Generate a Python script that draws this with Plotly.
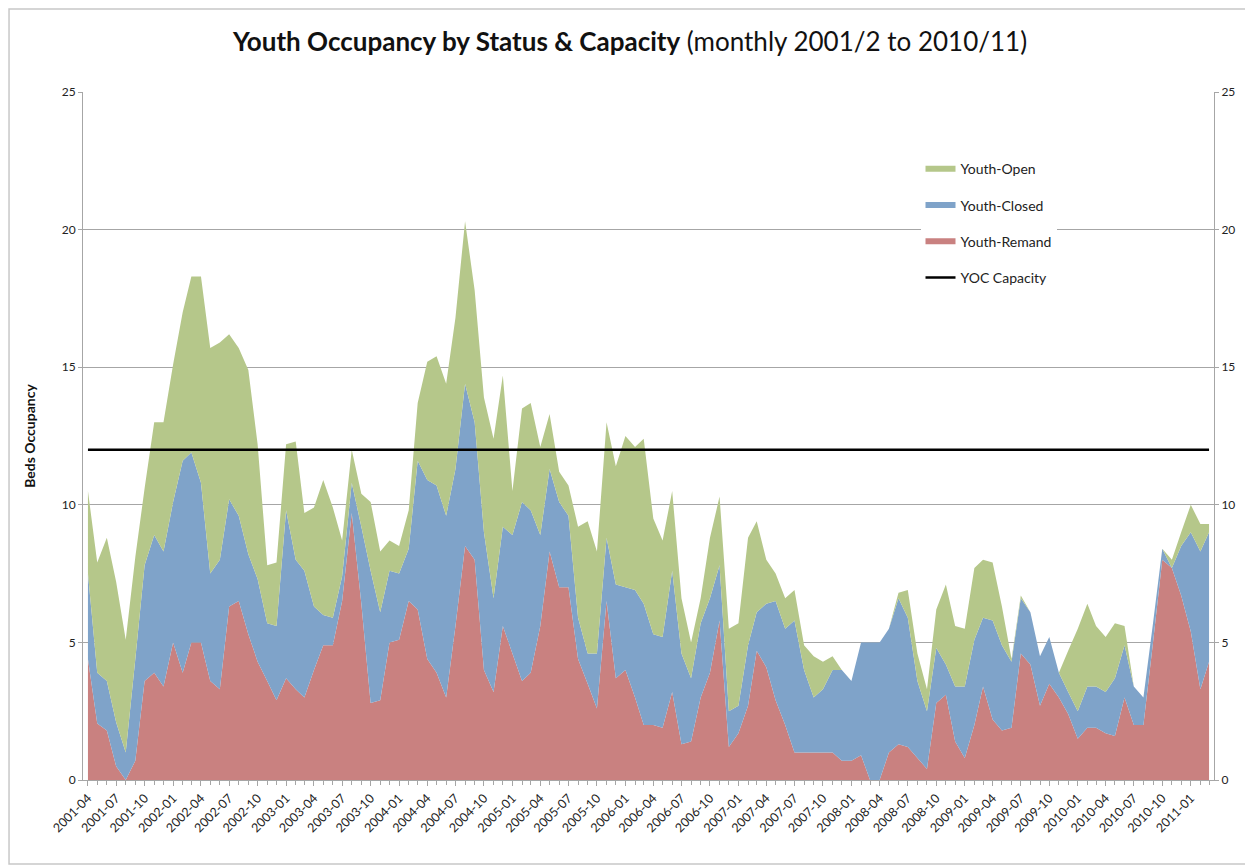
import pandas as pd
import plotly.graph_objects as go

# Monthly categories (first point 2001-04, last 2011-03)
MONTHS = pd.date_range("2001-04-01", periods=120, freq="MS").strftime("%Y-%m-%d").tolist()

YOUTH_REMAND = [
    4.4, 2.05, 1.8, 0.5, 0.0, 0.7, 3.6, 3.9, 3.4, 5.0,
    3.9, 5.0, 5.0, 3.6, 3.3, 6.3, 6.5, 5.3, 4.3, 3.6,
    2.9, 3.7, 3.3, 3.0, 4.0, 4.9, 4.9, 6.5, 9.7, 6.4,
    2.8, 2.9, 5.0, 5.1, 6.5, 6.2, 4.4, 3.9, 3.0, 5.6,
    8.5, 8.0, 4.0, 3.2, 5.6, 4.6, 3.6, 3.9, 5.6, 8.3,
    7.0, 7.0, 4.4, 3.5, 2.6, 6.5, 3.7, 4.0, 3.0, 2.0,
    2.0, 1.9, 3.2, 1.3, 1.4, 3.0, 3.9, 5.8, 1.2, 1.7,
    2.7, 4.7, 4.1, 2.9, 2.0, 1.0, 1.0, 1.0, 1.0, 1.0,
    0.7, 0.7, 0.9, 0.0, 0.0, 1.0, 1.3, 1.2, 0.8, 0.4,
    2.8, 3.1, 1.4, 0.8, 2.0, 3.4, 2.2, 1.8, 1.9, 4.6,
    4.2, 2.7, 3.5, 3.0, 2.4, 1.5, 1.9, 1.9, 1.7, 1.6,
    3.0, 2.0, 2.0, 5.0, 8.0, 7.7, 6.7, 5.4, 3.3, 4.3,
]

YOUTH_CLOSED = [
    3.1, 1.85, 1.8, 1.6, 1.0, 3.7, 4.2, 5.0, 4.9, 5.1,
    7.7, 6.9, 5.8, 3.9, 4.7, 3.9, 3.1, 2.9, 3.0, 2.1,
    2.7, 6.1, 4.7, 4.6, 2.3, 1.1, 1.0, 0.9, 1.1, 2.8,
    4.8, 3.2, 2.6, 2.4, 1.9, 5.4, 6.5, 6.8, 6.6, 5.7,
    5.9, 5.0, 5.0, 3.4, 3.6, 4.3, 6.5, 5.9, 3.3, 3.0,
    3.1, 2.6, 1.5, 1.1, 2.0, 2.3, 3.4, 3.0, 3.9, 4.4,
    3.3, 3.3, 4.4, 3.3, 2.3, 2.7, 2.7, 2.0, 1.3, 1.0,
    2.2, 1.4, 2.3, 3.6, 3.5, 4.8, 3.0, 2.0, 2.3, 3.0,
    3.3, 2.9, 4.1, 5.0, 5.0, 4.5, 5.3, 4.7, 2.8, 2.1,
    2.0, 1.1, 2.0, 2.6, 3.1, 2.5, 3.6, 3.1, 2.4, 2.0,
    1.9, 1.8, 1.7, 0.9, 0.8, 1.0, 1.5, 1.5, 1.5, 2.1,
    1.9, 1.4, 1.0, 0.7, 0.4, 0.0, 1.8, 3.6, 5.0, 4.7,
]

YOUTH_OPEN = [
    3.0, 4.0, 5.2, 5.1, 4.1, 3.7, 2.8, 4.1, 4.7, 5.0,
    5.4, 6.4, 7.5, 8.2, 7.9, 6.0, 6.1, 6.7, 4.9, 2.1,
    2.3, 2.4, 4.3, 2.1, 3.6, 4.9, 4.0, 1.3, 1.2, 1.2,
    2.5, 2.2, 1.1, 1.0, 1.4, 2.1, 4.3, 4.7, 4.8, 5.5,
    5.9, 4.8, 4.9, 5.8, 5.5, 1.6, 3.4, 3.9, 3.2, 2.0,
    1.1, 1.1, 3.3, 4.8, 3.7, 4.2, 4.3, 5.5, 5.2, 6.0,
    4.2, 3.5, 2.9, 2.0, 1.3, 0.9, 2.2, 2.5, 3.0, 3.0,
    3.9, 3.3, 1.6, 1.0, 1.1, 1.1, 0.9, 1.5, 1.0, 0.5,
    0.0, 0.0, 0.0, 0.0, 0.0, 0.0, 0.2, 1.0, 1.0, 0.8,
    1.4, 2.9, 2.2, 2.1, 2.6, 2.1, 2.1, 1.4, 0.1, 0.1,
    0.0, 0.0, 0.0, 0.0, 1.5, 3.0, 3.0, 2.2, 2.0, 2.0,
    0.7, 0.0, 0.0, 0.0, 0.0, 0.3, 0.5, 1.0, 1.0, 0.3,
]

YOC_CAPACITY = 12

TICK_VALUES = [0, 5, 10, 15, 20, 25]

GREEN = "rgb(181,199,138)"
BLUE = "rgb(127,163,201)"
RED = "rgb(201,129,128)"
FONT = "Lato, 'Open Sans', sans-serif"

fig = go.Figure()

fig.add_trace(go.Scatter(
    x=MONTHS, y=YOUTH_REMAND, name="Youth-Remand", stackgroup="one",
    mode="none", fillcolor=RED, legendrank=3, legendgroup="r",
    hoverinfo="skip",
))
fig.add_trace(go.Scatter(
    x=MONTHS, y=YOUTH_CLOSED, name="Youth-Closed", stackgroup="one",
    mode="none", fillcolor=BLUE, legendrank=2, legendgroup="c",
    hoverinfo="skip",
))
fig.add_trace(go.Scatter(
    x=MONTHS, y=YOUTH_OPEN, name="Youth-Open", stackgroup="one",
    mode="none", fillcolor=GREEN, legendrank=1, legendgroup="o",
    hoverinfo="skip",
))
fig.add_trace(go.Scatter(
    x=MONTHS, y=[YOC_CAPACITY] * len(MONTHS), name="YOC Capacity",
    mode="lines", line=dict(color="black", width=2.5), legendrank=4,
    legendgroup="k", yaxis="y2", hoverinfo="skip",
))

axis_line = "rgb(166,166,166)"

W, H = 1245, 857
fig.update_layout(
    width=W, height=H,
    margin=dict(l=75, r=39, t=84, b=85),
    paper_bgcolor="white", plot_bgcolor="white",
    font=dict(family=FONT, size=12, color="#222"),
    title=dict(
        text="<b>Youth Occupancy by Status &amp; Capacity</b> (monthly 2001/2 to 2010/11)",
        x=(630 - 8) / W, xref="container", xanchor="center",
        y=1 - 34 / H, yref="container", yanchor="middle",
        font=dict(family=FONT, size=26, color="#111"),
    ),
    xaxis=dict(
        type="date",
        range=["2001-03-16", "2011-03-17"],
        tick0="2001-04-01", dtick="M3", tickformat="%Y-%m",
        tickangle=-45, ticks="outside", ticklen=5, tickcolor=axis_line,
        minor=dict(dtick="M1", ticks="outside", ticklen=4, tickcolor=axis_line, showgrid=False),
        showline=True, linecolor=axis_line, linewidth=1,
        showgrid=False, zeroline=False,
        tickfont=dict(size=12.5, color="#222"),
    ),
    yaxis=dict(
        range=[0, 25], tickvals=TICK_VALUES,
        showgrid=True, gridcolor=axis_line, gridwidth=1,
        showline=True, linecolor=axis_line, linewidth=1,
        ticks="outside", ticklen=4, tickcolor=axis_line,
        zeroline=False,
        title=dict(text="<b>Beds Occupancy</b>", font=dict(size=14, color="#111"), standoff=22),
        tickfont=dict(size=12, color="#222"),
    ),
    yaxis2=dict(
        range=[0, 25], tickvals=TICK_VALUES, overlaying="y", side="right",
        showgrid=False, showline=True, linecolor=axis_line, linewidth=1,
        ticks="outside", ticklen=4, tickcolor=axis_line, zeroline=False,
        tickfont=dict(size=12, color="#222"),
    ),
    legend=dict(
        x=0.7405, y=0.911, xanchor="left", yanchor="top",
        bgcolor="white", font=dict(size=14, color="#222"),
        tracegroupgap=15, itemwidth=30,
    ),
    shapes=[dict(
        type="rect", xref="paper", yref="paper",
        x0=-0.0654, x1=1.0327, y0=-0.122, y1=1.1206,
        line=dict(color="rgb(200,200,200)", width=1.5), fillcolor="rgba(0,0,0,0)",
        layer="below",
    )],
)

fig.write_html("out.html")
